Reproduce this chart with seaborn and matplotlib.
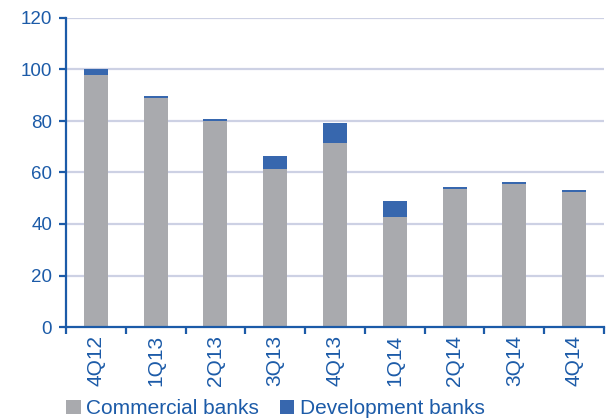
import matplotlib
matplotlib.use("Agg")
import matplotlib.pyplot as plt
from matplotlib.patches import Patch
import seaborn as sns
import pandas as pd

quarters = ["4Q12", "1Q13", "2Q13", "3Q13", "4Q13", "1Q14", "2Q14", "3Q14", "4Q14"]
commercial = [97.8, 89.0, 80.0, 61.4, 71.5, 42.7, 53.6, 55.5, 52.4]
development = [2.2, 0.7, 0.8, 5.0, 7.7, 6.2, 0.8, 0.8, 0.8]
y_ticks = [0, 20, 40, 60, 80, 100, 120]

GRAY = "#A9AAAE"
BLUE = "#3767AE"
INK = "#1C5BA8"
GRID = "#CDD1E4"

df = pd.DataFrame({"quarter": quarters, "commercial": commercial, "development": development})
df["total"] = df["commercial"] + df["development"]

sns.set_style("white")
plt.rcParams["font.family"] = ["Liberation Sans", "DejaVu Sans"]

fig = plt.figure(figsize=(6.06, 4.19), dpi=100)
ax = fig.add_axes([66 / 606, 1 - 327 / 419, 538 / 606, 309 / 419])

# stacked bars: full height in blue, commercial share painted over it in gray
sns.barplot(data=df, x="quarter", y="total", color=BLUE, width=0.4, saturation=1,
            ax=ax, zorder=3, edgecolor="none")
sns.barplot(data=df, x="quarter", y="commercial", color=GRAY, width=0.4, saturation=1,
            ax=ax, zorder=4, edgecolor="none")

ax.set_xlim(-0.5, len(quarters) - 0.5)
ax.set_ylim(0, 120)
ax.set_yticks(y_ticks)
ax.set_xlabel("")
ax.set_ylabel("")

for y in y_ticks[1:]:
    ax.axhline(y, color=GRID, lw=1.6, zorder=1)

for side in ("top", "right"):
    ax.spines[side].set_visible(False)
for side in ("left", "bottom"):
    ax.spines[side].set_color(INK)
    ax.spines[side].set_linewidth(1.6)
    ax.spines[side].set_zorder(5)

ax.tick_params(axis="y", direction="out", length=5, width=1.6, color=INK,
               labelcolor=INK, labelsize=13.5, pad=5, left=True)
ax.set_xticks(range(len(quarters)))
ax.set_xticklabels(quarters, rotation=90)
ax.tick_params(axis="x", which="major", length=0, labelcolor=INK, labelsize=15, pad=6)
ax.set_xticks([i - 0.5 for i in range(len(quarters) + 1)], minor=True)
ax.tick_params(axis="x", which="minor", direction="out", length=5, width=1.6,
               color=INK, bottom=True)

handles = [Patch(facecolor=GRAY, edgecolor="none", label="Commercial banks"),
           Patch(facecolor=BLUE, edgecolor="none", label="Development banks")]
fig.legend(handles=handles, loc="lower left", bbox_to_anchor=(58 / 606, -0.018),
           ncol=2, frameon=False, fontsize=15, handlelength=0.7, handleheight=0.7,
           handletextpad=0.25, columnspacing=1.0, labelcolor=INK, borderaxespad=0)

fig.savefig("out.png", dpi=100)
